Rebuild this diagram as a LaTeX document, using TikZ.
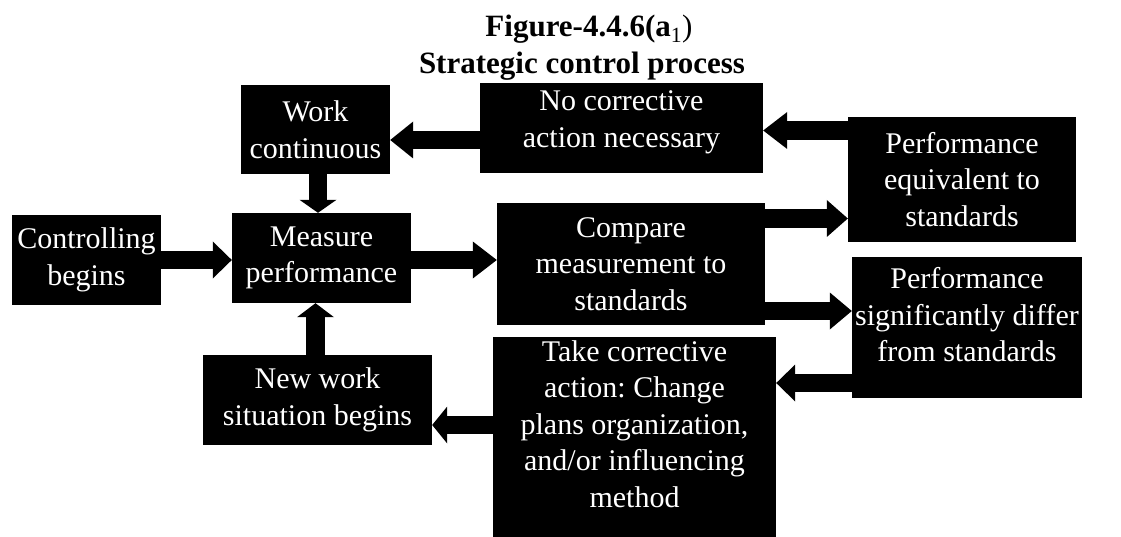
\documentclass[tikz,border=0pt]{standalone}
\usepackage{fontspec}
\setmainfont{Liberation Serif}
\usetikzlibrary{arrows.meta,calc}
\frenchspacing
\begin{document}
\begin{tikzpicture}[x=1pt,y=-1pt,
    darkbox/.style={rectangle,fill=black,text=white,inner sep=0pt,align=center,
        font=\fontsize{30}{36.5}\selectfont},
    titletext/.style={anchor=base,inner sep=0pt,font=\fontsize{31}{37}\selectfont\bfseries},
    fatarrow/.style={line width=18.5pt,-{Triangle[length=#1,width=37pt,line width=0pt]}},
    fatarrow/.default=22pt]
\useasboundingbox (0,0) rectangle (1121,537);
\node[titletext](fig) at (589,37) {Figure-4.4.6(a\textsubscript{\mdseries1}\mdseries)};
\node[titletext](figname) at (582,74) {Strategic control process};
\node[darkbox,minimum width=149pt,minimum height=90pt](begin) at (86.5,260) {Controlling\\begins};
\node[darkbox,minimum width=179pt,minimum height=90pt](measure) at (321.5,258) {Measure\\performance};
\node[darkbox,minimum width=149pt,minimum height=89pt](work) at (315.5,129.5) {Work\\continuous};
\node[darkbox,minimum width=283pt,minimum height=90pt,text depth=18pt](nocorr) at (621.5,128) {No corrective\\action necessary};
\node[darkbox,minimum width=268pt,minimum height=122pt](compare) at (631,264) {Compare\\measurement to\\standards};
\node[darkbox,minimum width=228pt,minimum height=125pt](equiv) at (962,179.5) {Performance\\equivalent to\\standards};
\node[darkbox,minimum width=230pt,minimum height=141pt,text depth=26pt](differ) at (967,327.5) {Performance\\significantly differ\\from standards};
\node[darkbox,minimum width=229pt,minimum height=90pt](newwork) at (317.5,400) {New work\\situation begins};
\node[darkbox,minimum width=283pt,minimum height=200pt,text depth=26pt](corrective) at (634.5,437) {Take corrective\\action: Change\\plans organization,\\and/or influencing\\method};
\draw[fatarrow=19pt] (begin.east) -- (begin.east -| measure.west);
\draw[fatarrow=24pt] ([yshift=-2pt]measure.east) -- ([yshift=-2pt]measure.east -| compare.west);
\draw[fatarrow=13pt] ([xshift=2.5pt]work.south) -- ([xshift=2.5pt]work.south |- measure.north);
\draw[fatarrow=14pt] ([xshift=-2pt]newwork.north) -- ([xshift=-2pt]newwork.north |- measure.south);
\draw[fatarrow=23pt] ([yshift=-12pt]nocorr.west) -- ([yshift=-12pt]nocorr.west -| work.east);
\draw[fatarrow=24pt] ([yshift=49pt]equiv.west) -- ([yshift=49pt]equiv.west -| nocorr.east);
\draw[fatarrow=21pt] ([yshift=45.5pt]compare.east) -- ([yshift=45.5pt]compare.east -| equiv.west);
\draw[fatarrow=22pt] ([yshift=-47pt]compare.east) -- ([yshift=-47pt]compare.east -| differ.west);
\draw[fatarrow=19pt] ([yshift=-55.5pt]differ.west) -- ([yshift=-55.5pt]differ.west -| corrective.east);
\draw[fatarrow=15pt] ([yshift=12pt]corrective.west) -- ([yshift=12pt]corrective.west -| newwork.east);
\end{tikzpicture}
\end{document}
